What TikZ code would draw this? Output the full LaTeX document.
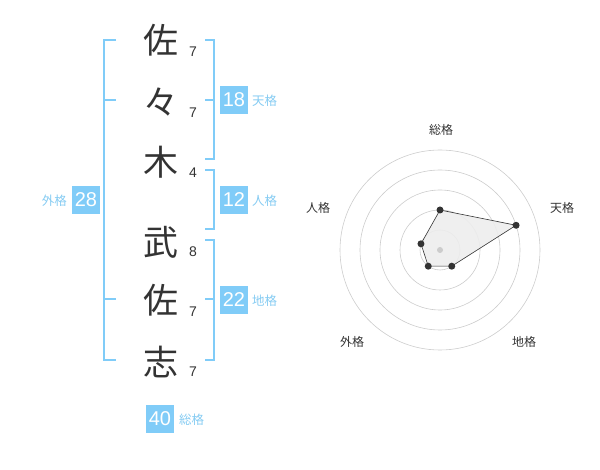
\documentclass[tikz,border=0pt]{standalone}
\usepackage{fontspec}
\setmainfont{Noto Sans CJK JP}
\newfontfamily\digitfont{Liberation Sans}
\usetikzlibrary{calc}
\definecolor{bl}{HTML}{80CCF8}
\definecolor{bltxt}{HTML}{85CBF2}
\definecolor{ink}{HTML}{333333}
\definecolor{ring}{HTML}{CCCCCC}
\begin{document}
\begin{tikzpicture}[x=1pt,y=-1pt,
  kanji/.style={font=\fontsize{35}{35}\selectfont, text=ink, inner sep=0pt},
  strokes/.style={font=\digitfont\fontsize{14}{14}\selectfont, text=ink, inner sep=0pt},
  brk/.style={draw=bl, line width=2pt},
  numbox/.style={fill=bl, text=white, minimum width=28pt, minimum height=28pt, inner sep=0pt, font=\digitfont\fontsize{20}{20}\selectfont},
  lab/.style={text=bltxt, font=\fontsize{12.5}{12.5}\selectfont, inner sep=0pt, anchor=west},
  rlab/.style={text=ink, font=\fontsize{12}{12}\selectfont, inner sep=0pt},
  dot/.style={circle, fill=ink, inner sep=0pt, minimum size=7pt},
  ringc/.style={draw=ring, line width=0.6pt}]
\useasboundingbox (0,0) rectangle (600,470);
% kanji
\node[kanji] (k1) at (161,40) {佐};
\node[kanji] (k2) at (161,102) {々};
\node[kanji] (k3) at (161,162) {木};
\node[kanji] (k4) at (161,242) {武};
\node[kanji] (k5) at (161,300) {佐};
\node[kanji] (k6) at (161,362) {志};
\node[strokes] (s1) at (193,52) {7};
\node[strokes] (s2) at (193,113) {7};
\node[strokes] (s3) at (193,173) {4};
\node[strokes] (s4) at (193,252) {8};
\node[strokes] (s5) at (193,312) {7};
\node[strokes] (s6) at (193,372) {7};
% left bracket
\coordinate (L1) at (116,40); \coordinate (L2) at (104,40);
\coordinate (L3) at (104,360); \coordinate (L4) at (116,360);
\coordinate (Lm1a) at (104,100); \coordinate (Lm1b) at (116,100);
\coordinate (Lm2a) at (104,299); \coordinate (Lm2b) at (116,299);
\draw[brk] (L1) -- (L2) -- (L3) -- (L4);
\draw[brk] (Lm1a) -- (Lm1b);
\draw[brk] (Lm2a) -- (Lm2b);
% right bracket 1
\coordinate (A1) at (205,40); \coordinate (A2) at (214,40);
\coordinate (A3) at (214,159); \coordinate (A4) at (205,159);
\coordinate (Am1) at (205,100); \coordinate (Am2) at (214,100);
\draw[brk] (A1) -- (A2) -- (A3) -- (A4);
\draw[brk] (Am1) -- (Am2);
% right bracket 2
\coordinate (B1) at (205,170); \coordinate (B2) at (214,170);
\coordinate (B3) at (214,229); \coordinate (B4) at (205,229);
\draw[brk] (B1) -- (B2) -- (B3) -- (B4);
% right bracket 3
\coordinate (C1) at (205,240); \coordinate (C2) at (214,240);
\coordinate (C3) at (214,360); \coordinate (C4) at (205,360);
\coordinate (Cm1) at (205,299); \coordinate (Cm2) at (214,299);
\draw[brk] (C1) -- (C2) -- (C3) -- (C4);
\draw[brk] (Cm1) -- (Cm2);
% number boxes
\node[numbox] (n18) at (234,100) {18};
\node[lab] (t18) at (252,101) {天格};
\node[numbox] (n12) at (234,200) {12};
\node[lab] (t12) at (252,201) {人格};
\node[numbox] (n22) at (234,300) {22};
\node[lab] (t22) at (252,301) {地格};
\node[numbox] (n28) at (86,200) {28};
\node[lab, anchor=east] (t28) at (67,201) {外格};
\node[numbox] (n40) at (160,419) {40};
\node[lab] (t40) at (179,420) {総格};
% radar
\coordinate (O) at (440,250);
\foreach \r in {20,40,60,80,100} \draw[ringc] (O) circle[radius=\r];
\coordinate (P1) at ($(O)+(0,-40)$);
\coordinate (P2) at ($(O)+({80*cos(18)},{-80*sin(18)})$);
\coordinate (P3) at ($(O)+({20*cos(-54)},{-20*sin(-54)})$);
\coordinate (P4) at ($(O)+({20*cos(234)},{-20*sin(234)})$);
\coordinate (P5) at ($(O)+({20*cos(162)},{-20*sin(162)})$);
\draw[ink, line width=0.6pt, fill=black!7, fill opacity=0.9] (P1) -- (P2) -- (P3) -- (P4) -- (P5) -- cycle;
\node[circle, fill=ring, inner sep=0pt, minimum size=6pt] (c0) at (O) {};
\foreach \p in {P1,P2,P3,P4,P5} \node[dot] at (\p) {};
\node[rlab] (r1) at (441,130) {総格};
\node[rlab] (r2) at (562,208) {天格};
\node[rlab] (r3) at (318,208) {人格};
\node[rlab] (r4) at (352,342) {外格};
\node[rlab] (r5) at (524,342) {地格};
\end{tikzpicture}
\end{document}
